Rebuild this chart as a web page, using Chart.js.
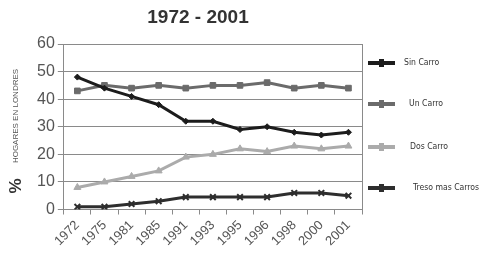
<!DOCTYPE html>
<html lang="es">
<head>
  <meta charset="utf-8">
  <title>Hogares en Londres 1972 - 2001</title>
  <script src="https://cdn.jsdelivr.net/npm/chart.js@4/dist/chart.umd.min.js"></script>
  <style>
    body { margin: 0; background: #fff; }
    .wrap { position: relative; width: 485px; height: 256px; font-family: "Liberation Sans", Arial, sans-serif; }
    .title { position: absolute; left: 98px; top: 6px; width: 200px; text-align: center; font-weight: bold; font-size: 19px; color: #333; }
    .legend { position: absolute; left: 368px; top: 0; width: 117px; }
    .item { position: absolute; left: 0; height: 10px; font-family: "Liberation Sans Narrow", "DejaVu Sans Condensed", sans-serif; font-size: 8.6px; color: #333; }
    .item .ln { position: absolute; left: 0; top: 3px; width: 27px; height: 4px; }
    .item .mk { position: absolute; top: 1px; left: 11px; width: 5px; height: 8px; }
    .item span { position: absolute; top: -1px; white-space: nowrap; }
  </style>
</head>
<body>
  <div class="wrap">
    <canvas id="chart-0" width="485" height="256"></canvas>
    <div class="title">1972 - 2001</div>
    <div class="legend" id="legend"></div>
  </div>

  <script>
    let years = ['1972', '1975', '1981', '1985', '1991', '1993', '1995', '1996', '1998', '2000', '2001'];
    let sinCarro = [48, 44, 41, 38, 32, 32, 29, 30, 28, 27, 28];
    let unCarro = [43, 45, 44, 45, 44, 45, 45, 46, 44, 45, 44];
    let dosCarro = [8, 10, 12, 14, 19, 20, 22, 21, 23, 22, 23];
    let tresCarros = [1, 1, 2, 3, 4.5, 4.5, 4.5, 4.5, 6, 6, 5];
    let yTicks = [0, 10, 20, 30, 40, 50, 60];

    let series = [
      { label: 'Sin Carro', data: sinCarro, color: '#1c1c1c', point: 'rectRot', radius: 3, top: 58, textX: 36 },
      { label: 'Un Carro', data: unCarro, color: '#6b6b6b', point: 'rect', radius: 4, top: 99, textX: 41 },
      { label: 'Dos Carro', data: dosCarro, color: '#ababab', point: 'triangle', radius: 4, top: 142, textX: 42 },
      { label: 'Treso mas Carros', data: tresCarros, color: '#2e2e2e', point: 'crossRot', radius: 4, top: 183, textX: 45 }
    ];

    // legend drawn as html on the right
    let legend = document.getElementById('legend');
    series.forEach(function(s) {
      let item = document.createElement('div');
      item.className = 'item';
      item.style.top = s.top + 'px';
      item.innerHTML = '<div class="ln" style="background:' + s.color + '"></div>' +
        '<div class="mk" style="background:' + s.color + '"></div>' +
        '<span style="left:' + s.textX + 'px">' + s.label + '</span>';
      legend.appendChild(item);
    });

    let sideText = {
      id: 'sideText',
      afterDraw: function(chart) {
        let ctx = chart.ctx;
        let area = chart.chartArea;
        ctx.save();
        // right border of plot
        ctx.strokeStyle = '#8a8a8a';
        ctx.lineWidth = 1;
        ctx.beginPath();
        ctx.moveTo(area.right + 0.5, area.top);
        ctx.lineTo(area.right + 0.5, area.bottom);
        ctx.stroke();

        ctx.translate(16, 116);
        ctx.rotate(-Math.PI / 2);
        ctx.fillStyle = '#555';
        ctx.textAlign = 'center';
        ctx.textBaseline = 'middle';
        ctx.font = '8px "Liberation Sans Narrow", "Liberation Sans", sans-serif';
        ctx.fillText('HOGARES EN LONDRES', 0, 0);
        ctx.font = 'bold 17px "Liberation Sans", sans-serif';
        ctx.fillStyle = '#333';
        ctx.fillText('%', -70, 0);
        ctx.restore();
      }
    };

    let chart = new Chart('chart-0', {
      type: 'line',
      data: {
        labels: years,
        datasets: series.map(function(s) {
          return {
            label: s.label,
            data: s.data,
            borderColor: s.color,
            backgroundColor: s.color,
            borderWidth: 3,
            pointStyle: s.point,
            pointRadius: s.radius,
            pointBorderWidth: s.point === 'crossRot' ? 2 : 1,
            tension: 0
          };
        })
      },
      options: {
        responsive: false,
        animation: false,
        layout: { padding: { left: 34, right: 123, top: 44, bottom: 4 } },
        plugins: {
          legend: { display: false },
          title: { display: false },
          tooltip: { enabled: false }
        },
        scales: {
          x: {
            offset: true,
            grid: { offset: true, drawOnChartArea: false, drawTicks: true, tickLength: 5, color: '#8a8a8a' },
            border: { color: '#8a8a8a' },
            ticks: {
              maxRotation: 45, minRotation: 45,
              color: '#555',
              font: { family: '"Liberation Sans", Arial, sans-serif', size: 13 }
            }
          },
          y: {
            min: 0, max: 60,
            afterBuildTicks: function(axis) {
              axis.ticks = yTicks.map(function(v) { return { value: v }; });
            },
            grid: { color: '#8a8a8a', tickLength: 6 },
            border: { color: '#8a8a8a' },
            ticks: {
              color: '#555',
              padding: 3,
              font: { family: '"Liberation Sans", Arial, sans-serif', size: 16 }
            }
          }
        }
      },
      plugins: [sideText]
    });
  </script>
</body>
</html>
